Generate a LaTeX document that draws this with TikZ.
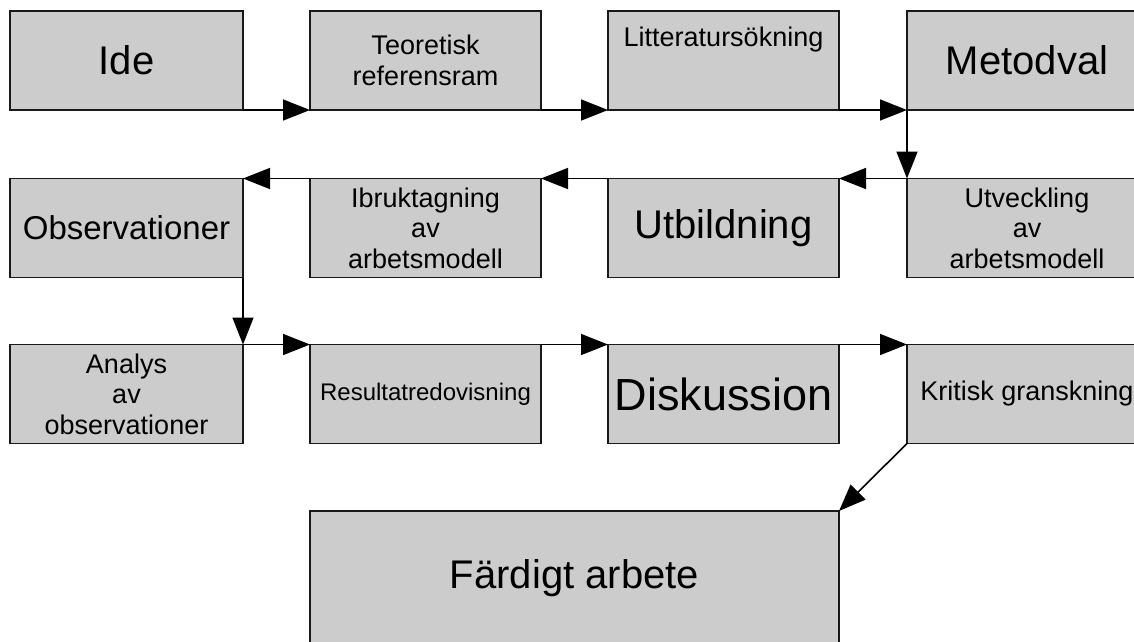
\documentclass[tikz,border=0pt]{standalone}
\usepackage{fontspec}
\setmainfont{Liberation Sans}
\usepackage{xcolor}
\usetikzlibrary{arrows.meta}
\usetikzlibrary{positioning}

\definecolor{boxgray}{HTML}{CCCCCC}

\begin{document}
\begin{tikzpicture}[x=1pt,y=-1pt]

    % Custom styles for the boxes and arrows
    \tikzstyle{stage} = [draw=black!90, fill=boxgray, line width=1.6pt, outer sep=0pt,
        inner sep=0pt, align=center, minimum height=99pt, minimum width=231pt]
    \tikzstyle{small} = [font=\fontsize{27}{30.5}\selectfont]
    \tikzstyle{big} = [font=\fontsize{40}{46}\selectfont]
    \tikzstyle{flow} = [line width=1.6pt, -{Triangle[length=27pt,width=21pt]}]

    \useasboundingbox (0,0) rectangle (1134,641);
    \clip (0,0) rectangle (1134,641);

    % Define nodes
    \node[stage, big, minimum width=233pt] (ide) at (126.5,60.5) {Ide};
    \node[stage, small] (teo) at (425.5,60.5) {Teoretisk\\referensram};
    \node[stage, small, text depth=48pt] (lit) at (723.5,60.5) {Litteratursökning};
    \node[stage, big, minimum width=240pt] (met) at (1027,60.5) {Metodval};

    \node[stage, font=\fontsize{33}{38}\selectfont, minimum width=233pt] (obs) at (126.5,228) {Observationer};
    \node[stage, small] (ibr) at (425.5,228) {Ibruktagning\\av\\arbetsmodell};
    \node[stage, big] (utb) at (723.5,228) {Utbildning};
    \node[stage, small, minimum width=240pt] (utv) at (1027,228) {Utveckling\\av\\arbetsmodell};

    \node[stage, small, minimum width=233pt] (ana) at (126.5,394) {Analys\\av\\observationer};
    \node[stage, font=\fontsize{24}{28}\selectfont] (res) at (425.5,394) {Resultatredovisning};
    \node[stage, font=\fontsize{45}{50}\selectfont] (dis) at (723.5,394) {Diskussion};
    \node[stage, small, minimum width=240pt] (kri) at (1027,394) {Kritisk granskning};

    \node[stage, big, minimum width=529pt, minimum height=134pt] (far) at (574.5,578) {Färdigt arbete};

    % Connect nodes
    \draw[flow] (ide.south east) -- (teo.south west);
    \draw[flow] (teo.south east) -- (lit.south west);
    \draw[flow] (lit.south east) -- (met.south west);
    \draw[flow] (met.south west) -- (utv.north west);
    \draw[flow] (utv.north west) -- (utb.north east);
    \draw[flow] (utb.north west) -- (ibr.north east);
    \draw[flow] (ibr.north west) -- (obs.north east);
    \draw[flow] (obs.south east) -- (ana.north east);
    \draw[flow] (ana.north east) -- (res.north west);
    \draw[flow] (res.north east) -- (dis.north west);
    \draw[flow] (dis.north east) -- (kri.north west);
    \draw[flow] (kri.south west) -- (far.north east);

\end{tikzpicture}
\end{document}
